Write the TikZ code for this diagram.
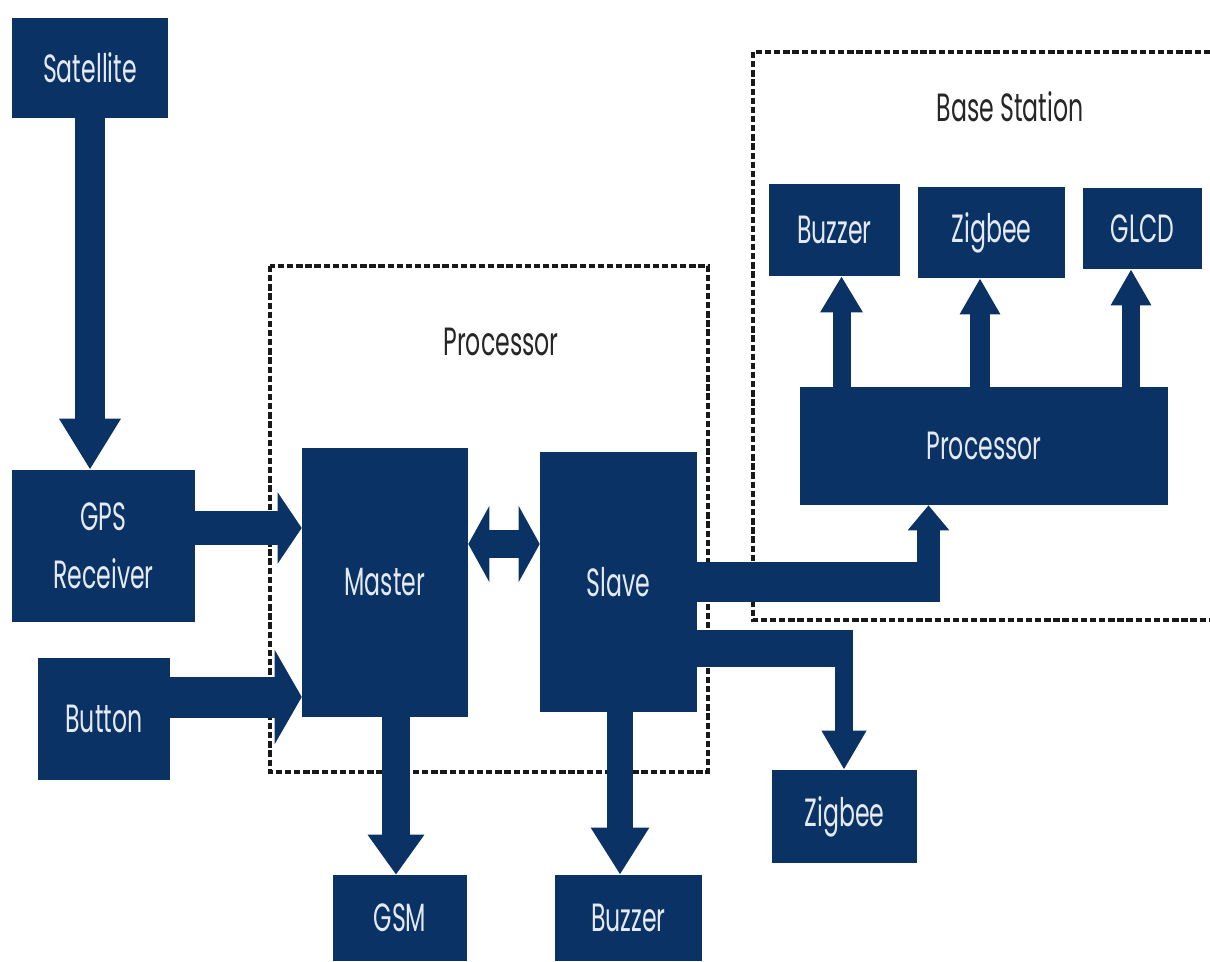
\documentclass[tikz,border=0pt]{standalone}
\usepackage{fontspec}
\setmainfont{Poppins}[FakeStretch=0.6]
\usetikzlibrary{arrows.meta}
\definecolor{navy}{RGB}{10,50,100}
\definecolor{paletxt}{RGB}{228,234,244}

\begin{document}
\begin{tikzpicture}[x=0.025cm, y=-0.025cm, every node/.style={font=\fontsize{28}{41}\selectfont},
  blk/.style={fill=navy, text=paletxt, inner sep=0pt, align=center},
  sz/.style 2 args={minimum width=#1*0.025cm, minimum height=#2*0.025cm},
  grp/.style={draw=black!90, line width=2.3pt, dash pattern=on 4.5pt off 2pt},
  flowbar/.style={draw=navy, line width=#1},
  flow/.style n args={3}{draw=navy, line width=#1, -{Triangle[width=#2,length=#3]}},
  both/.style n args={3}{draw=navy, line width=#1, {Triangle[width=#2,length=#3]}-{Triangle[width=#2,length=#3]}}]
\path[use as bounding box, fill=white] (0,0) rectangle (1210,961);
% groups
\draw[grp] (270,266) rectangle (708,772);
\draw[grp] (1210,52) -| (753,620) -- (1210,620);
\node[text=black!85] (plbl) at (501,342) {Processor};
\node[text=black!85] (blbl) at (1010,107) {Base Station};
% left side
\node[blk, sz={156}{100}] (sat) at (90,68) {Satellite};
\node[blk, sz={183}{152}] (gps) at (103.5,546) {GPS\\Receiver};
\node[blk, sz={132}{122}] (btn) at (104,719) {Button};
% processor
\node[blk, sz={166}{269}] (mst) at (385,582.5) {Master};
\node[blk, sz={157}{260}] (slv) at (618.5,582) {Slave};
\node[blk, sz={134}{86}] (gsm) at (400,918) {GSM};
\node[blk, sz={147}{86}] (buz) at (628.5,918) {Buzzer};
\node[blk, sz={145}{93}] (zig) at (844.5,816.5) {Zigbee};
% base station
\node[blk, sz={368}{118}] (bproc) at (984,446) {Processor};
\node[blk, sz={131}{92}] (bbuz) at (834.5,230) {Buzzer};
\node[blk, sz={147}{91}] (bzig) at (991.5,232.5) {Zigbee};
\node[blk, sz={119}{81}] (glcd) at (1142.5,228.5) {GLCD};
% connectors
\draw[flow={0.75cm}{1.45cm}{1.275cm}] (sat.south) -- (sat.south |- gps.north);
\draw[flow={0.85cm}{1.75cm}{0.6cm}] (gps.east |- 0,528) -- (mst.west |- 0,528);
\draw[flow={1.025cm}{2.325cm}{0.675cm}] (btn.east |- 0,697) -- (mst.west |- 0,697);
\draw[both={0.7cm}{1.875cm}{0.525cm}] (mst.east |- 0,544) -- (slv.west |- 0,544);
\draw[flow={0.7cm}{1.35cm}{1.0cm}] (mst.south -| 396,0) -- (gsm.north -| 396,0);
\draw[flow={0.65cm}{1.375cm}{1.175cm}] (slv.south -| 620,0) -- (buz.north -| 620,0);
\coordinate (zk) at (844,648.5);
\draw[flowbar=0.925cm] (slv.east |- zk) -- (853,648.5);
\draw[flow={0.45cm}{1.05cm}{0.975cm}] (zk) -- (zk |- zig.north);
\coordinate (pk) at (928.5,582);
\draw[flowbar=1.0cm] (slv.east |- pk) -- (940,582);
\draw[flow={0.575cm}{1.0cm}{0.625cm}] (pk) -- (pk |- bproc.south);
\draw[flow={0.45cm}{1.0cm}{0.9cm}] (bproc.north -| 841.5,0) -- (bbuz.south -| 841.5,0);
\draw[flow={0.5cm}{0.95cm}{0.9cm}] (bproc.north -| 980,0) -- (bzig.south -| 980,0);
\draw[flow={0.45cm}{0.95cm}{0.9cm}] (bproc.north -| 1131,0) -- (glcd.south -| 1131,0);
\end{tikzpicture}
\end{document}
